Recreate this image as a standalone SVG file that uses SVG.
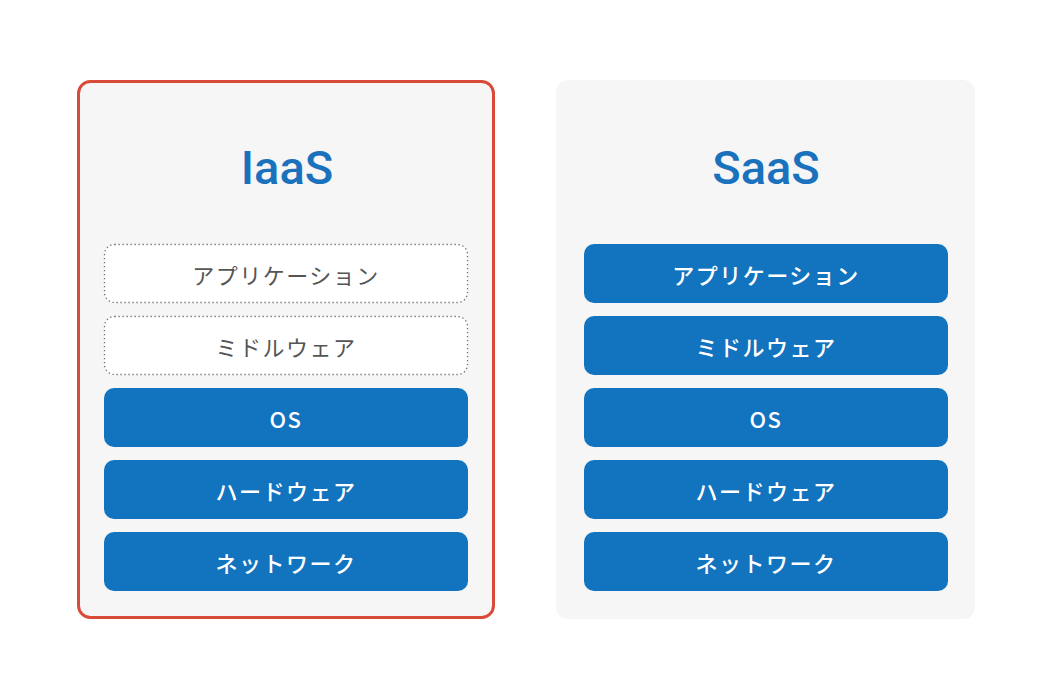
<svg xmlns="http://www.w3.org/2000/svg" width="1050" height="700" viewBox="0 0 1050 700">
<style>
.card{fill:#f6f6f7}
.sel{stroke:#d94a38;stroke-width:3}
.title{font-family:Roboto,"Liberation Sans",sans-serif;font-size:47px;font-weight:500;fill:#1a72bd;text-anchor:middle}
.box{fill:#1273be}
.ghost{fill:#ffffff;stroke:#6f6f6f;stroke-width:1.3;stroke-dasharray:1.3 2.7}
.lbl{font-family:"Noto Sans CJK JP","Noto Sans",sans-serif;font-size:22px;font-weight:500;text-anchor:middle;dominant-baseline:central;letter-spacing:1.5px}
.w{fill:#ffffff}
.g{fill:#555555;font-weight:400}
</style>
<rect width="1050" height="700" fill="#ffffff"/>
<g id="iaas">
<rect class="card sel" x="78.5" y="81.5" width="415" height="536" rx="12"/>
<text class="title" x="287" y="184">IaaS</text>
</g>
<g id="iaas-app"><rect class="ghost" x="104.5" y="244.5" width="363" height="58" rx="10"/><text class="lbl g" x="286" y="274">アプリケーション</text></g>
<g id="iaas-mw"><rect class="ghost" x="104.5" y="316.5" width="363" height="58" rx="10"/><text class="lbl g" x="286" y="346">ミドルウェア</text></g>
<g id="iaas-os"><rect class="box" x="104" y="388" width="364" height="59" rx="10"/><text class="lbl w" x="286" y="418">OS</text></g>
<g id="iaas-hw"><rect class="box" x="104" y="460" width="364" height="59" rx="10"/><text class="lbl w" x="286" y="490">ハードウェア</text></g>
<g id="iaas-nw"><rect class="box" x="104" y="532" width="364" height="59" rx="10"/><text class="lbl w" x="286" y="562">ネットワーク</text></g>
<g id="saas">
<rect class="card" x="556" y="80" width="419" height="539" rx="12"/>
<text class="title" x="766" y="184">SaaS</text>
</g>
<g id="saas-app"><rect class="box" x="584" y="244" width="364" height="59" rx="10"/><text class="lbl w" x="766" y="274">アプリケーション</text></g>
<g id="saas-mw"><rect class="box" x="584" y="316" width="364" height="59" rx="10"/><text class="lbl w" x="766" y="346">ミドルウェア</text></g>
<g id="saas-os"><rect class="box" x="584" y="388" width="364" height="59" rx="10"/><text class="lbl w" x="766" y="418">OS</text></g>
<g id="saas-hw"><rect class="box" x="584" y="460" width="364" height="59" rx="10"/><text class="lbl w" x="766" y="490">ハードウェア</text></g>
<g id="saas-nw"><rect class="box" x="584" y="532" width="364" height="59" rx="10"/><text class="lbl w" x="766" y="562">ネットワーク</text></g>
<g id="connectors"></g>
</svg>
